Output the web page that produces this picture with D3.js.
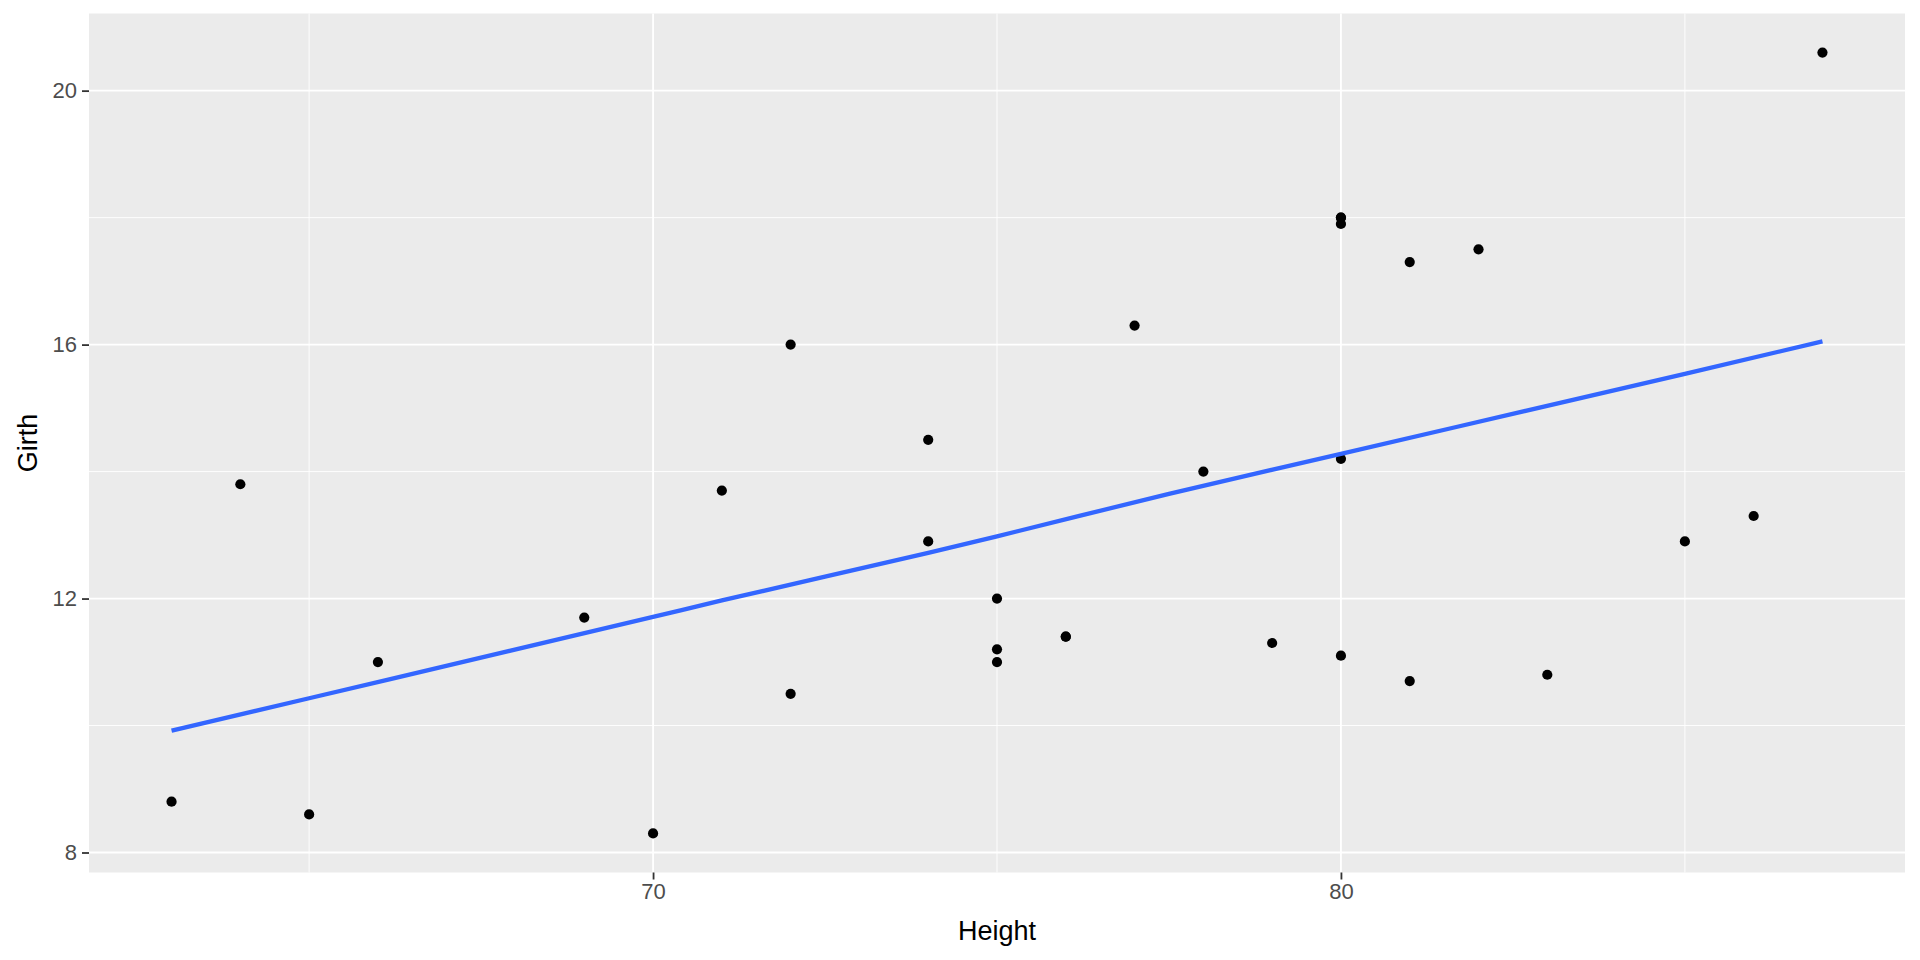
<!DOCTYPE html>
<html>
<head>
<meta charset="utf-8">
<script src="https://cdn.jsdelivr.net/npm/d3@7"></script>
<style>
  body { margin: 0; background: #ffffff; }
  text { font-family: "Liberation Sans", Arial, sans-serif; }
</style>
</head>
<body>
<div id="vis"></div>
<script>
// trees data: height (ft) and girth (in)
const heights = [70, 65, 63, 72, 81, 83, 66, 75, 80, 75, 79, 76, 76, 69, 75, 74, 85, 86, 71, 64, 78, 80, 74, 72, 77, 81, 82, 80, 80, 80, 87];
const girths = [8.3, 8.6, 8.8, 10.5, 10.7, 10.8, 11.0, 11.0, 11.1, 11.2, 11.3, 11.4, 11.4, 11.7, 12.0, 12.9, 12.9, 13.3, 13.7, 13.8, 14.0, 14.2, 14.5, 16.0, 16.3, 17.3, 17.5, 17.9, 18.0, 18.0, 20.6];

// smooth line
const smoothX = [63, 65, 70, 71, 74, 75, 77.5, 80, 85, 87];
const smoothY = [9.92, 10.43, 11.71, 11.97, 12.72, 12.98, 13.65, 14.28, 15.54, 16.05];

const xMajor = [70, 80];
const xMinor = [65, 75, 85];
const yMajor = [8, 12, 16, 20];
const yMinor = [10, 14, 18];

const W = 1920, H = 960;
const margin = { top: 13.5, right: 15, bottom: 87.5, left: 89 };
const width = W - margin.left - margin.right;
const height = H - margin.top - margin.bottom;

const svg = d3.select("#vis")
  .append("svg")
    .attr("width", W)
    .attr("height", H);

const g = svg.append("g")
  .attr("transform", "translate(" + margin.left + "," + margin.top + ")");

// ggplot style 5% expansion
const xr = d3.extent(heights), yr = d3.extent(girths);
const xPad = (xr[1] - xr[0]) * 0.05, yPad = (yr[1] - yr[0]) * 0.05;
const x = d3.scaleLinear().domain([xr[0] - xPad, xr[1] + xPad]).range([0, width]);
const y = d3.scaleLinear().domain([yr[0] - yPad, yr[1] + yPad]).range([height, 0]);

// panel
g.append("rect")
  .attr("width", width)
  .attr("height", height)
  .attr("fill", "#EBEBEB");

// grid
g.selectAll(".xminor").data(xMinor).join("line")
  .attr("x1", d => x(d)).attr("x2", d => x(d))
  .attr("y1", 0).attr("y2", height)
  .attr("stroke", "#fff").attr("stroke-width", 0.9);
g.selectAll(".yminor").data(yMinor).join("line")
  .attr("y1", d => y(d)).attr("y2", d => y(d))
  .attr("x1", 0).attr("x2", width)
  .attr("stroke", "#fff").attr("stroke-width", 0.9);
g.selectAll(".xmajor").data(xMajor).join("line")
  .attr("x1", d => x(d)).attr("x2", d => x(d))
  .attr("y1", 0).attr("y2", height)
  .attr("stroke", "#fff").attr("stroke-width", 1.8);
g.selectAll(".ymajor").data(yMajor).join("line")
  .attr("y1", d => y(d)).attr("y2", d => y(d))
  .attr("x1", 0).attr("x2", width)
  .attr("stroke", "#fff").attr("stroke-width", 1.8);

// axes
const xAxis = d3.axisBottom(x).tickValues(xMajor).tickSize(7).tickPadding(4);
const yAxis = d3.axisLeft(y).tickValues(yMajor).tickSize(7).tickPadding(5);

const gx = g.append("g")
  .attr("transform", `translate(0, ${height})`)
  .call(xAxis);
const gy = g.append("g").call(yAxis);

[gx, gy].forEach(a => {
  a.select(".domain").remove();
  a.selectAll(".tick line").attr("stroke", "#333333").attr("stroke-width", 1.8);
  a.selectAll(".tick text")
    .attr("fill", "#4D4D4D")
    .style("font-size", "22px")
    .style("font-family", "'Liberation Sans', Arial, sans-serif");
});

// points
g.selectAll(".pt")
  .data(heights.map((h, i) => ({ h: h, gi: girths[i] })))
  .join("circle")
    .attr("cx", d => x(d.h))
    .attr("cy", d => y(d.gi))
    .attr("r", 5.1)
    .attr("fill", "#000");

// smooth line
const line = d3.line()
  .x(d => x(d[0]))
  .y(d => y(d[1]))
  .curve(d3.curveMonotoneX);

g.append("path")
  .datum(smoothX.map((v, i) => [v, smoothY[i]]))
  .attr("d", line)
  .attr("fill", "none")
  .attr("stroke", "#3366FF")
  .attr("stroke-width", 4.3);

// axis titles
svg.append("text")
  .attr("x", margin.left + width / 2)
  .attr("y", 940)
  .attr("text-anchor", "middle")
  .style("font-size", "27px")
  .attr("fill", "#000")
  .text("Height");

svg.append("text")
  .attr("transform", `translate(37, ${margin.top + height / 2}) rotate(-90)`)
  .attr("text-anchor", "middle")
  .style("font-size", "27px")
  .attr("fill", "#000")
  .text("Girth");
</script>
</body>
</html>
